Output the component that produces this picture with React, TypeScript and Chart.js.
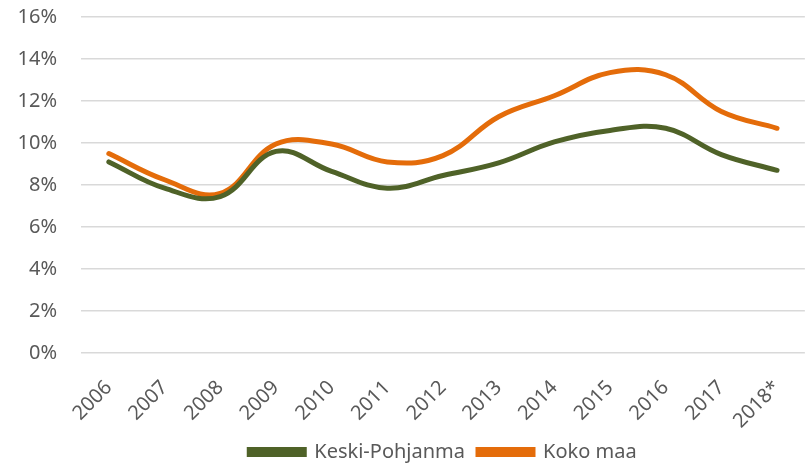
import React, { useEffect, useRef } from "react";
import { Chart, registerables } from "chart.js";

Chart.register(...registerables);

const years = ["2006", "2007", "2008", "2009", "2010", "2011", "2012", "2013", "2014", "2015", "2016", "2017", "2018*"];
const keskiPohjanma = [9.1, 7.85, 7.45, 9.6, 8.65, 7.85, 8.45, 9.05, 10.05, 10.6, 10.7, 9.45, 8.7];
const kokoMaa = [9.5, 8.25, 7.6, 9.95, 9.95, 9.1, 9.4, 11.25, 12.25, 13.35, 13.25, 11.5, 10.7];
const yTicks = [0, 2, 4, 6, 8, 10, 12, 14, 16];

const FONT = "'Noto Sans', sans-serif";
const TEXT = "#595959";

export default function App() {
  const ref = useRef<HTMLCanvasElement | null>(null);
  useEffect(() => {
    if (!ref.current) return;
    const chart = new Chart(ref.current, {
      type: "line",
      data: {
        labels: years,
        datasets: [
          {
            label: "Keski-Pohjanma",
            data: keskiPohjanma,
            borderColor: "#4f6228",
            backgroundColor: "#4f6228",
            borderWidth: 5,
            pointRadius: 0,
            tension: 0.4,
            borderCapStyle: "round",
          },
          {
            label: "Koko maa",
            data: kokoMaa,
            borderColor: "#e46c0a",
            backgroundColor: "#e46c0a",
            borderWidth: 5,
            pointRadius: 0,
            tension: 0.4,
            borderCapStyle: "round",
          },
        ],
      },
      options: {
        responsive: false,
        animation: false,
        maintainAspectRatio: false,
        layout: { padding: { top: 17, right: 0, left: 0, bottom: -7 } },
        plugins: {
          tooltip: { enabled: false },
          legend: {
            position: "bottom",
            fullSize: false,
            labels: {
              boxWidth: 55,
              boxHeight: 5,
              padding: 13,
              color: TEXT,
              font: { family: FONT, size: 20 },
            },
          },
        },
        scales: {
          x: {
            offset: true,
            grid: { display: false },
            border: { display: false },
            afterFit: (scale: any) => {
              scale.height = 76;
            },
            ticks: {
              color: TEXT,
              font: { family: FONT, size: 20 },
              maxRotation: 45,
              minRotation: 45,
              padding: 15,
            },
          },
          y: {
            min: 0,
            max: 16,
            afterBuildTicks: (axis: any) => {
              axis.ticks = yTicks.map((v) => ({ value: v }));
            },
            afterFit: (scale: any) => {
              scale.width = 81;
              scale.paddingTop = 0;
              scale.paddingBottom = 0;
            },
            grid: { color: "#d9d9d9", lineWidth: 1.5, drawTicks: false },
            border: { display: false },
            ticks: {
              color: TEXT,
              font: { family: FONT, size: 20 },
              padding: 24,
              callback: (v: any) => `${v}%`,
            },
          },
        },
      },
    });
    return () => chart.destroy();
  }, []);
  return (
    <div style={{ position: "absolute", left: 0, top: 0, width: 809, height: 465, background: "#fff" }}>
      <canvas ref={ref} width={809} height={465} />
    </div>
  );
}
